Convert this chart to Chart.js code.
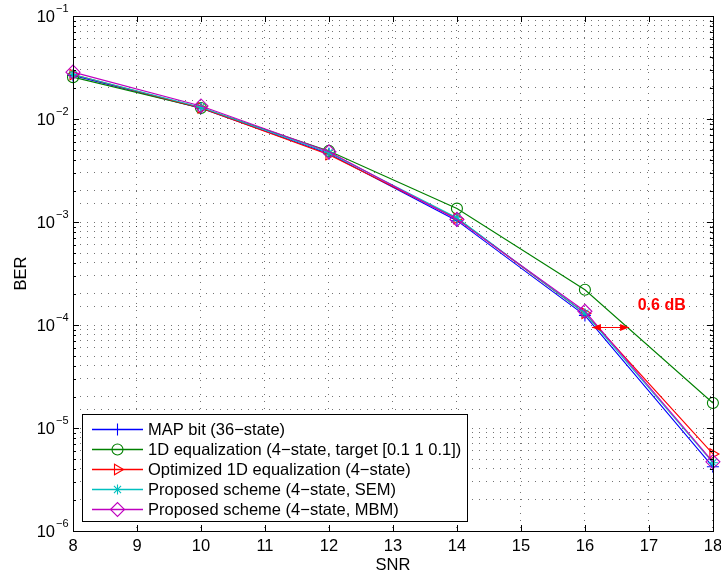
<!DOCTYPE html>
<html>
<head>
<meta charset="utf-8">
<script src="https://cdn.jsdelivr.net/npm/chart.js@4.4.0/dist/chart.umd.min.js"></script>
<style>
  body { margin: 0; background: #fff; }
  canvas { display: block; }
</style>
</head>
<body>
<canvas id="berChart" width="721" height="575"></canvas>
<script>
// Datos
const snr = [8, 10, 12, 14, 16, 18];
const xTicks = [8, 9, 10, 11, 12, 13, 14, 15, 16, 17, 18];
const yDecades = [-6, -5, -4, -3, -2, -1];

const mapBit    = [0.0265, 0.0127, 0.0046, 0.00103, 1.24e-4, 4.2e-6];
const eq1D      = [0.0255, 0.0128, 0.0049, 0.00135, 2.2e-4, 1.75e-5];
const eq1DOpt   = [0.0270, 0.0128, 0.0045, 0.00108, 1.30e-4, 5.6e-6];
const propSEM   = [0.0270, 0.0130, 0.0047, 0.00110, 1.30e-4, 4.6e-6];
const propMBM   = [0.0285, 0.0134, 0.0048, 0.00106, 1.36e-4, 4.7e-6];

const labels = [
    'MAP bit (36\u2212state)',
    '1D equalization (4\u2212state, target [0.1 1 0.1])',
    'Optimized 1D equalization (4\u2212state)',
    'Proposed scheme (4\u2212state, SEM)',
    'Proposed scheme (4\u2212state, MBM)'
];
const serieColors = ['#0000ff', '#008000', '#ff0000', '#00bfbf', '#bf00bf'];
const markers = ['cross', 'circle', 'triangle', 'star', 'rectRot'];
const markerSize = [6, 5.5, 6, 5, 7];
const markerRot = [0, 0, 90, 0, 0];

// Anotación de 0.6 dB
const arrowFrom = 16.11;
const arrowTo = 16.69;
const arrowBer = 9.5e-5;
const noteText = '0.6 dB';
const noteX = 17.2;
const noteBer = 1.56e-4;

const FONT = '"Liberation Sans", Arial, Helvetica, sans-serif';

function serie(i, values) {
    return {
        label: labels[i],
        data: snr.map((x, k) => ({ x: x, y: values[k] })),
        borderColor: serieColors[i],
        backgroundColor: serieColors[i],
        borderWidth: 1.1,
        pointStyle: markers[i],
        pointRadius: markerSize[i],
        pointRotation: markerRot[i],
        pointBorderColor: serieColors[i],
        pointBackgroundColor: 'rgba(0,0,0,0)',
        pointBorderWidth: 1.1,
        tension: 0,
        clip: false,
        order: 4 - i // la última serie queda encima
    };
}

const datasets = [
    serie(0, mapBit),
    serie(1, eq1D),
    serie(2, eq1DOpt),
    serie(3, propSEM),
    serie(4, propMBM)
];

// Plugin para dibujar los ejes estilo MATLAB, la leyenda y la anotación
const matlabAxes = {
    id: 'matlabAxes',
    afterDatasetsDraw(chart) {
        const ctx = chart.ctx;
        const area = chart.chartArea;
        const xs = chart.scales.x;
        const ys = chart.scales.y;
        ctx.save();
        ctx.setLineDash([]);

        // Marco
        ctx.strokeStyle = '#000';
        ctx.lineWidth = 1;
        ctx.strokeRect(Math.round(area.left) + 0.5, Math.round(area.top) + 0.5,
            Math.round(area.right - area.left), Math.round(area.bottom - area.top));

        // Marcas del eje X hacia dentro
        ctx.beginPath();
        xTicks.forEach(t => {
            const px = Math.round(xs.getPixelForValue(t)) + 0.5;
            ctx.moveTo(px, area.bottom);
            ctx.lineTo(px, area.bottom - 6);
            ctx.moveTo(px, area.top);
            ctx.lineTo(px, area.top + 6);
        });
        // Marcas del eje Y (mayores y menores)
        yDecades.forEach(d => {
            for (let m = 1; m <= 9; m++) {
                if (d === -1 && m > 1) break;
                const v = m * Math.pow(10, d);
                const py = Math.round(ys.getPixelForValue(v)) + 0.5;
                const len = m === 1 ? 6 : 3;
                ctx.moveTo(area.left, py);
                ctx.lineTo(area.left + len, py);
                ctx.moveTo(area.right, py);
                ctx.lineTo(area.right - len, py);
            }
        });
        ctx.stroke();

        // Etiquetas del eje X
        ctx.fillStyle = '#000';
        ctx.font = '16.5px ' + FONT;
        ctx.textAlign = 'center';
        ctx.textBaseline = 'middle';
        xTicks.forEach(t => {
            ctx.fillText(String(t), xs.getPixelForValue(t), 546);
        });
        ctx.fillText('SNR', (area.left + area.right) / 2, 565);

        // Etiquetas del eje Y con exponente
        yDecades.forEach(d => {
            const py = ys.getPixelForValue(Math.pow(10, d));
            ctx.font = '16.5px ' + FONT;
            ctx.textAlign = 'right';
            ctx.fillText('10', 55, py + 1);
            ctx.font = '11px ' + FONT;
            ctx.textAlign = 'left';
            ctx.fillText('\u2212' + Math.abs(d), 56, py - 7);
        });

        // Título del eje Y
        ctx.save();
        ctx.translate(21, (area.top + area.bottom) / 2);
        ctx.rotate(-Math.PI / 2);
        ctx.font = '16.5px ' + FONT;
        ctx.textAlign = 'center';
        ctx.fillText('BER', 0, 0);
        ctx.restore();

        // Anotación: flecha doble y texto
        const ax1 = xs.getPixelForValue(arrowFrom);
        const ax2 = xs.getPixelForValue(arrowTo);
        const ay = Math.round(ys.getPixelForValue(arrowBer));
        ctx.fillStyle = '#ff0000';
        ctx.fillRect(ax1, ay, ax2 - ax1, 1);
        ctx.beginPath();
        ctx.moveTo(ax1, ay + 0.5);
        ctx.lineTo(ax1 + 9, ay - 3);
        ctx.lineTo(ax1 + 9, ay + 4);
        ctx.closePath();
        ctx.moveTo(ax2, ay + 0.5);
        ctx.lineTo(ax2 - 9, ay - 3);
        ctx.lineTo(ax2 - 9, ay + 4);
        ctx.closePath();
        ctx.fill();
        ctx.font = 'bold 16px ' + FONT;
        ctx.textAlign = 'center';
        ctx.textBaseline = 'middle';
        ctx.fillText(noteText, xs.getPixelForValue(noteX), ys.getPixelForValue(noteBer));

        // Leyenda
        const lx = 82.5, ly = 414.5, lw = 385, lh = 107;
        ctx.fillStyle = '#fff';
        ctx.fillRect(lx, ly, lw, lh);
        ctx.strokeStyle = '#000';
        ctx.lineWidth = 1;
        ctx.strokeRect(lx, ly, lw, lh);
        labels.forEach((label, i) => {
            const y = 429 + i * 20;
            ctx.fillStyle = '#000';
            ctx.font = '16.5px ' + FONT;
            ctx.textAlign = 'left';
            ctx.textBaseline = 'middle';
            ctx.fillText(label, 148, y + 1);
            // muestra de línea, dibujada en color de la serie
            ctx.beginPath();
            ctx.strokeStyle = serieColors[i];
            ctx.lineWidth = 1.5;
            ctx.moveTo(92, y + 0.5);
            ctx.lineTo(143, y + 0.5);
            ctx.stroke();
            // marcador
            ctx.lineWidth = 1.1;
            ctx.fillStyle = 'rgba(255,255,255,0)';
            Chart.helpers.drawPoint(ctx, {
                pointStyle: markers[i],
                rotation: markerRot[i],
                radius: markerSize[i],
                borderWidth: 1.1
            }, 117.5, y + 0.5);
        });

        ctx.restore();
    }
};

const ctx = document.getElementById('berChart').getContext('2d');
const berChart = new Chart(ctx, {
    type: 'line',
    data: { datasets: datasets },
    options: {
        responsive: false,
        animation: false,
        layout: { padding: { top: 16, right: 7, left: 0, bottom: 0 } },
        plugins: {
            legend: { display: false },
            tooltip: { enabled: false }
        },
        scales: {
            x: {
                type: 'linear',
                min: 8,
                max: 18,
                ticks: { display: false, stepSize: 1 },
                grid: { color: 'rgba(0,0,0,0.55)', lineWidth: 1, drawTicks: false },
                border: { display: false, dash: [1, 6] },
                afterFit: s => { s.height = 44; }
            },
            y: {
                type: 'logarithmic',
                min: 1e-6,
                max: 1e-1,
                ticks: { display: false },
                grid: { color: 'rgba(0,0,0,0.55)', lineWidth: 1, drawTicks: false },
                border: { display: false, dash: [1, 6] },
                afterFit: s => { s.height = undefined; s.width = 73; }
            }
        }
    },
    plugins: [matlabAxes]
});
</script>
</body>
</html>
